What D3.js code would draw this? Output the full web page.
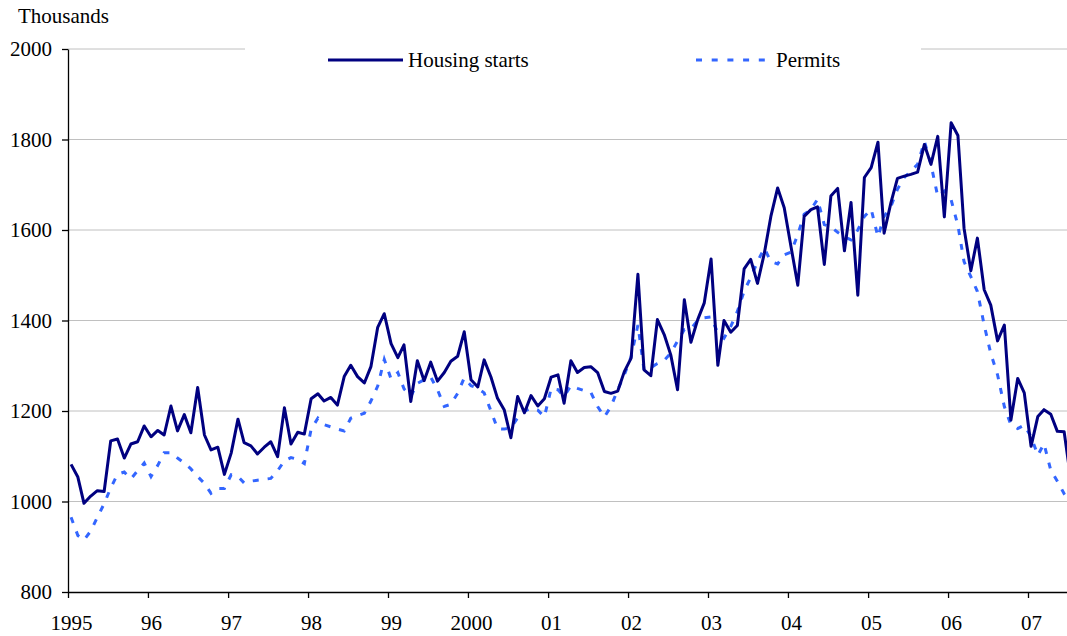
<!DOCTYPE html>
<html>
<head>
<meta charset="utf-8">
<script src="https://cdnjs.cloudflare.com/ajax/libs/d3/7.8.5/d3.min.js"></script>
<style>
    body { margin: 0; background: #fff; }
    svg text { font-family: "Liberation Serif", "Times New Roman", serif; fill: #000; }
</style>
</head>
<body>
<svg id="chart" width="1067" height="636"></svg>
<script>
// Monthly values, Jan 1995 - Jul 2007 (thousands)
const housingStarts = [
    1082, 1054, 996, 1012, 1024, 1022, 1134, 1138, 1096, 1127, 1132, 1167,
    1143, 1157, 1147, 1211, 1156, 1192, 1152, 1252, 1147, 1114, 1120, 1060,
    1107, 1182, 1130, 1123, 1105, 1120, 1132, 1099, 1207, 1127, 1153, 1149,
    1227, 1238, 1222, 1230, 1213, 1276, 1301, 1276, 1262, 1298, 1385, 1415,
    1349, 1318, 1346, 1221, 1311, 1267, 1308, 1266, 1285, 1310, 1321, 1375,
    1269, 1253, 1313, 1275, 1228, 1202, 1141, 1232, 1196, 1234, 1211, 1227,
    1275, 1280, 1217, 1311, 1285, 1296, 1298, 1285, 1243, 1239, 1244, 1287,
    1317, 1502, 1291, 1278, 1402, 1369, 1324, 1247, 1446, 1352, 1402, 1439,
    1536, 1301, 1400, 1374, 1389, 1514, 1535, 1482, 1548, 1630, 1693, 1649,
    1563, 1478, 1630, 1645, 1651, 1524, 1675, 1692, 1554, 1661, 1456, 1716,
    1738, 1794, 1593, 1660, 1714, 1719, 1723, 1728, 1789, 1745, 1807, 1629,
    1837, 1809, 1604, 1510, 1582, 1468, 1434, 1355, 1390, 1180, 1272, 1240,
    1122, 1188, 1203, 1193, 1155, 1154, 1050
];

const permits = [
    965, 925, 915, 935, 965, 995, 1030, 1060, 1065, 1050, 1068, 1085,
    1055, 1080, 1108, 1108, 1096, 1085, 1072, 1055, 1040, 1018, 1029, 1029,
    1059, 1055, 1041, 1045, 1047, 1049, 1051, 1068, 1090, 1097, 1093, 1084,
    1160, 1184, 1170, 1165, 1160, 1156, 1184, 1190, 1195, 1222, 1255, 1314,
    1271, 1285, 1249, 1232, 1261, 1269, 1275, 1247, 1210, 1215, 1239, 1273,
    1256, 1250, 1240, 1200, 1161, 1160, 1163, 1185, 1200, 1206, 1202, 1187,
    1250, 1247, 1232, 1256, 1250, 1245, 1241, 1210, 1187, 1210, 1247, 1280,
    1320, 1390, 1291, 1296, 1305, 1312, 1328, 1355, 1380, 1382, 1400, 1406,
    1408, 1372, 1361, 1387, 1420, 1465, 1495, 1530, 1560, 1530, 1525, 1545,
    1551, 1590, 1635, 1645, 1668, 1612, 1607, 1595, 1585, 1578, 1600, 1630,
    1646, 1585, 1630, 1652, 1690, 1716, 1730, 1745, 1796, 1745, 1674, 1686,
    1667, 1610, 1530, 1497, 1464, 1390, 1327, 1280, 1210, 1169, 1161, 1169,
    1143, 1102, 1128, 1069, 1045, 1017, 995
];

const startYear = 1995;
const yTicks = [800, 1000, 1200, 1400, 1600, 1800, 2000];
const xTickYears = [1995, 1996, 1997, 1998, 1999, 2000, 2001, 2002, 2003, 2004, 2005, 2006, 2007];
const xTickLabels = ["1995", "96", "97", "98", "99", "2000", "01", "02", "03", "04", "05", "06", "07"];
const seriesNames = ["Housing starts", "Permits"];

const plotLeft = 68, plotRight = 1067, plotTop = 49, plotBottom = 592;

const svg = d3.select("#chart");

// x: one year = 80px, points placed mid-month
const x = d3.scaleTime()
    .domain([new Date(1995, 0, 1), new Date(2007, 0, 1)])
    .range([plotLeft, 1028]);
x.domain([new Date(1995, 0, 1), x.invert(plotRight)]).range([plotLeft, plotRight]);

const y = d3.scaleLinear()
    .domain([800, 2000])
    .range([plotBottom, plotTop]);

const toPoints = values => values.map((v, i) => ({ date: new Date(startYear, i, 15), value: v }));

// Gridlines
svg.append("g")
    .selectAll("line")
    .data(yTicks.filter(d => d !== 800))
    .enter()
    .append("line")
    .attr("x1", plotLeft)
    .attr("x2", plotRight)
    .attr("y1", d => y(d))
    .attr("y2", d => y(d))
    .attr("stroke", "#c0c0c0")
    .attr("stroke-width", 1);

// Clip for series
svg.append("clipPath")
    .attr("id", "plot-clip")
    .append("rect")
    .attr("x", plotLeft)
    .attr("y", 0)
    .attr("width", plotRight - plotLeft)
    .attr("height", plotBottom);

const line = d3.line()
    .x(d => x(d.date))
    .y(d => y(d.value));

const plot = svg.append("g").attr("clip-path", "url(#plot-clip)");

plot.append("path")
    .datum(toPoints(permits))
    .attr("d", line)
    .attr("fill", "none")
    .attr("stroke", "#3366ff")
    .attr("stroke-width", 3)
    .attr("stroke-dasharray", "6,9");

plot.append("path")
    .datum(toPoints(housingStarts))
    .attr("d", line)
    .attr("fill", "none")
    .attr("stroke", "#000080")
    .attr("stroke-width", 3)
    .attr("stroke-linejoin", "round");

// Legend (white box hides part of the top gridline)
const legend = svg.append("g");
legend.append("rect")
    .attr("x", 245)
    .attr("y", 38)
    .attr("width", 676)
    .attr("height", 44)
    .attr("fill", "#fff");

legend.append("line")
    .attr("x1", 328).attr("x2", 403)
    .attr("y1", 60).attr("y2", 60)
    .attr("stroke", "#000080")
    .attr("stroke-width", 3);
legend.append("text")
    .attr("x", 408).attr("y", 60)
    .attr("dy", "0.35em")
    .style("font-size", "21px")
    .text(seriesNames[0]);

legend.append("line")
    .attr("x1", 696).attr("x2", 765)
    .attr("y1", 60).attr("y2", 60)
    .attr("stroke", "#3366ff")
    .attr("stroke-width", 3)
    .attr("stroke-dasharray", "6,9.7");
legend.append("text")
    .attr("x", 776).attr("y", 60)
    .attr("dy", "0.35em")
    .style("font-size", "21px")
    .text(seriesNames[1]);

// Axes
const yAxis = svg.append("g")
    .attr("transform", `translate(${plotLeft},0)`)
    .call(d3.axisLeft(y)
        .tickValues(yTicks)
        .tickFormat(d3.format("d"))
        .tickSize(6)
        .tickSizeOuter(0)
        .tickPadding(10));

const xAxis = svg.append("g")
    .attr("transform", `translate(0,${plotBottom})`)
    .call(d3.axisBottom(x)
        .tickValues(xTickYears.map(yr => new Date(yr, 0, 1)))
        .tickFormat((d, i) => xTickLabels[i])
        .tickSize(6)
        .tickSizeOuter(0)
        .tickPadding(17));

[yAxis, xAxis].forEach(ax => {
    ax.select(".domain").attr("stroke", "#000").attr("stroke-width", 1.3);
    ax.selectAll(".tick line").attr("stroke", "#000").attr("stroke-width", 1.3);
    ax.selectAll("text")
        .style("font-family", "'Liberation Serif', 'Times New Roman', serif")
        .style("font-size", "21px")
        .attr("fill", "#000");
});
xAxis.selectAll("text").attr("dx", 3);

// Unit label
svg.append("text")
    .attr("x", 18)
    .attr("y", 23)
    .style("font-size", "21px")
    .text("Thousands");
</script>
</body>
</html>
